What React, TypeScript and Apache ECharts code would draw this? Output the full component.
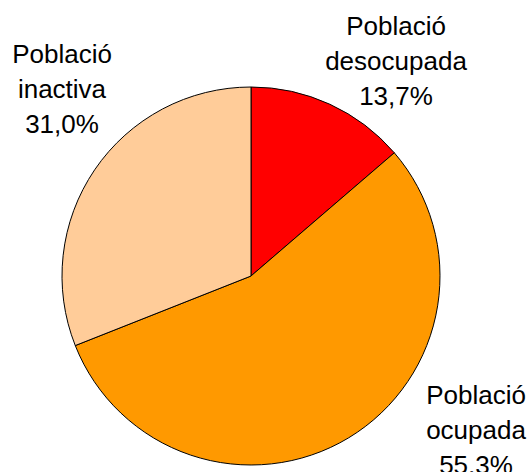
import React, { useEffect, useRef } from "react";
import * as echarts from "echarts";

const categories = ["Població\ndesocupada", "Població\nocupada", "Població\ninactiva"];
const values = [13.7, 55.3, 31.0];
const colors = ["#FF0000", "#FF9900", "#FFCC99"];

// label anchor points (centre of each label block)
const labelPos: [number, number][] = [
  [396, 61],
  [476, 430],
  [62, 89],
];

export default function App() {
  const ref = useRef<HTMLDivElement>(null);
  useEffect(() => {
    if (!ref.current) return;
    const chart = echarts.init(ref.current, null, { renderer: "svg" });
    chart.setOption({
      animation: false,
      backgroundColor: "#ffffff",
      series: [
        {
          type: "pie",
          center: [251, 276],
          radius: 189,
          startAngle: 90,
          clockwise: true,
          avoidLabelOverlap: false,
          data: categories.map((name, i) => ({
            name,
            value: values[i],
            itemStyle: { color: colors[i] },
          })),
          itemStyle: { borderColor: "#000000", borderWidth: 1 },
          emphasis: { disabled: true },
          label: {
            show: true,
            position: "outside",
            color: "#000000",
            fontFamily: "'Liberation Sans', Arial, sans-serif",
            fontSize: 26,
            lineHeight: 35,
            align: "center",
            formatter: (p: any) =>
              p.name + "\n" + Number(p.value).toFixed(1).replace(".", ",") + "%",
          },
          labelLine: { show: false },
          labelLayout: (params: any) => {
            const pos = labelPos[params.dataIndex];
            return {
              x: pos[0],
              y: pos[1],
              align: "center",
              verticalAlign: "middle",
            };
          },
        },
      ],
    });
    return () => chart.dispose();
  }, []);
  return (
    <div
      ref={ref}
      style={{ position: "fixed", left: 0, top: 0, width: 530, height: 472 }}
    />
  );
}
